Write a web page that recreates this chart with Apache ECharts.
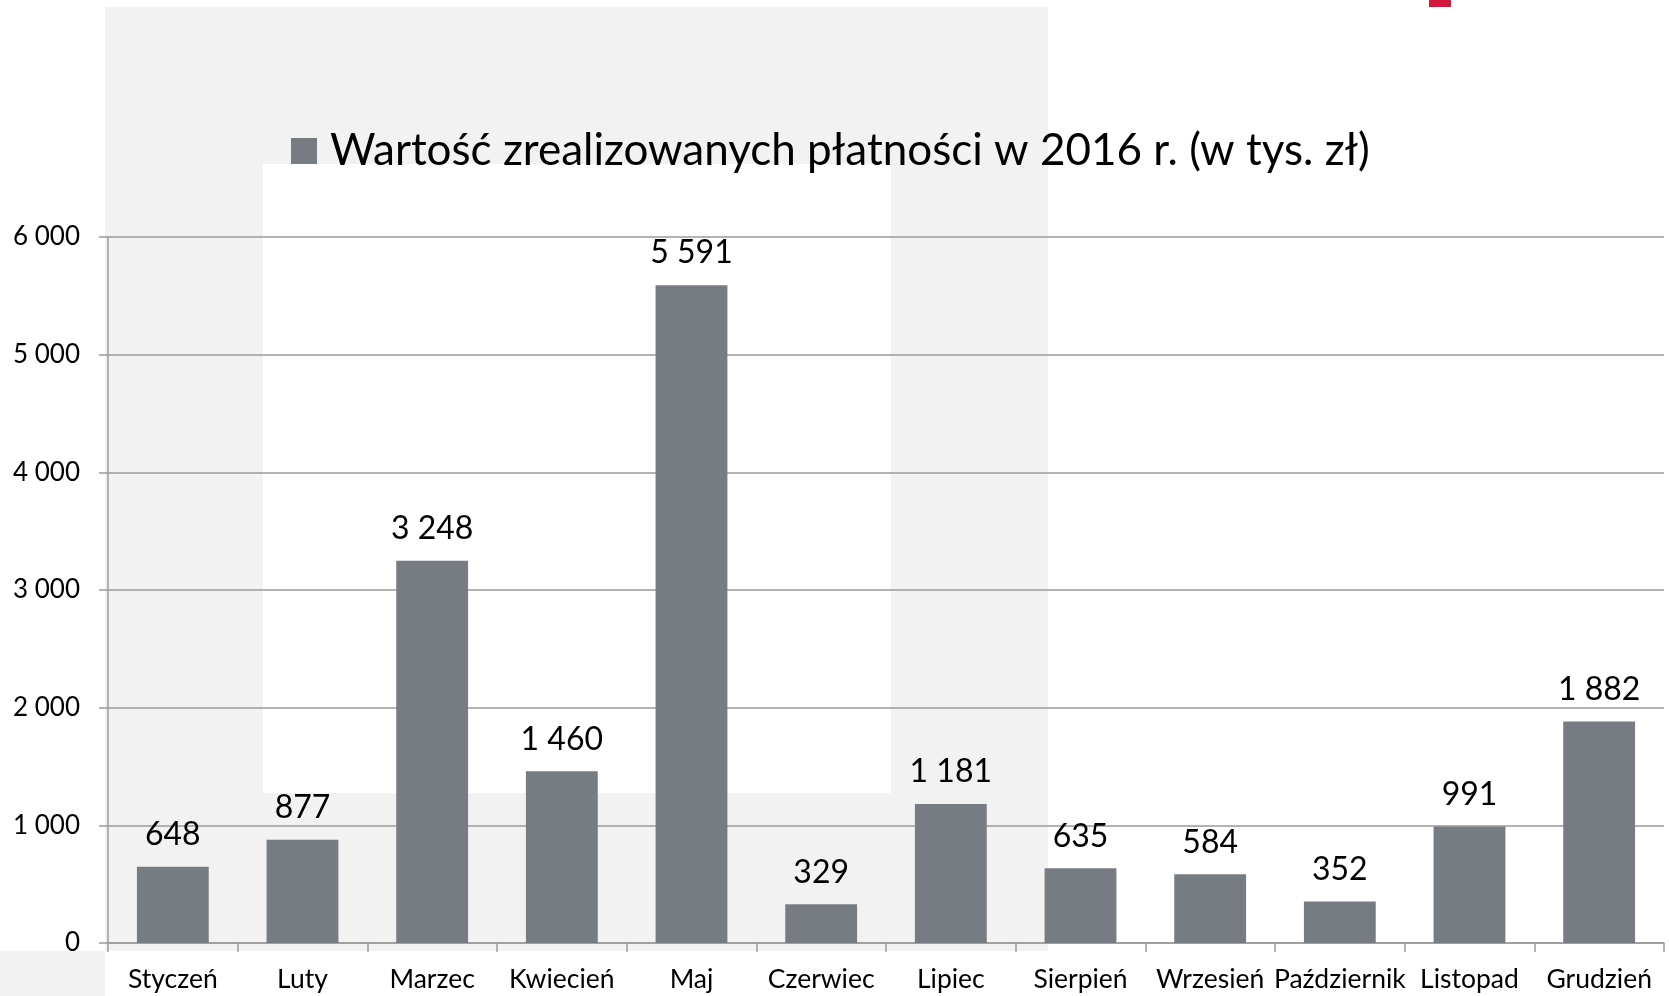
<!DOCTYPE html>
<html>
<head>
<meta charset="utf-8">
<script src="https://cdn.jsdelivr.net/npm/echarts@6/dist/echarts.min.js"></script>
<style>
  html, body { margin: 0; padding: 0; background: #fff; }
  #main { width: 1669px; height: 996px; }
</style>
</head>
<body>
<div id="main"></div>
<script>
// dane z wykresu
var months = ['Styczeń', 'Luty', 'Marzec', 'Kwiecień', 'Maj', 'Czerwiec', 'Lipiec',
  'Sierpień', 'Wrzesień', 'Październik', 'Listopad', 'Grudzień']
var payments = [648, 877, 3248, 1460, 5591, 329, 1181, 635, 584, 352, 991, 1882]
var seriesName = 'Wartość zrealizowanych płatności w 2016 r. (w tys. zł)'

var FONT = 'Lato, "Open Sans", sans-serif'

// liczby ze spacją jako separatorem tysięcy
function fmt(v) {
  return String(v).replace(/\B(?=(\d{3})+(?!\d))/g, ' ')
}

var myChart = echarts.init(document.getElementById('main'))

var option = {
  backgroundColor: '#ffffff',
  animation: false,
  // tło: szary panel, biały prostokąt, czerwony znacznik
  graphic: [
    { type: 'rect', z: -10, shape: { x: 105, y: 7, width: 943, height: 944 }, style: { fill: '#f2f2f2' } },
    { type: 'rect', z: -10, shape: { x: 0, y: 951, width: 105, height: 45 }, style: { fill: '#f2f2f2' } },
    { type: 'rect', z: -9, shape: { x: 263, y: 164, width: 628, height: 629 }, style: { fill: '#ffffff' } },
    { type: 'rect', z: -9, shape: { x: 1429, y: 0, width: 22, height: 7 }, style: { fill: '#d2193c' } }
  ],
  legend: {
    left: 286,
    top: 124,
    itemWidth: 26,
    itemHeight: 26,
    itemGap: 10,
    icon: 'rect',
    textStyle: { fontFamily: FONT, fontSize: 44, color: '#000', padding: [0, 0, 0, 8] },
    data: [seriesName]
  },
  grid: {
    left: 108,
    right: 5,
    top: 237,
    bottom: 53
  },
  xAxis: {
    type: 'category',
    data: months,
    axisLine: { lineStyle: { color: '#9a9a9a', width: 1.5 } },
    axisTick: { show: true, length: 9, lineStyle: { color: '#9a9a9a', width: 1.5 } },
    axisLabel: { fontFamily: FONT, fontSize: 26.5, color: '#000', margin: 23, interval: 0 }
  },
  yAxis: {
    type: 'value',
    min: 0,
    max: 6000,
    interval: 1000,
    axisLine: { show: true, lineStyle: { color: '#9a9a9a', width: 1.5 } },
    axisTick: { show: true, length: 9, lineStyle: { color: '#9a9a9a', width: 1.5 } },
    splitLine: { lineStyle: { color: '#9a9a9a', width: 1.5 } },
    axisLabel: {
      fontFamily: FONT, fontSize: 26, color: '#000', margin: 28,
      formatter: function (v) { return fmt(v) }
    }
  },
  series: [{
    name: seriesName,
    type: 'bar',
    data: payments,
    barCategoryGap: '44.6%',
    itemStyle: { color: '#777c82' },
    label: {
      show: true,
      position: 'top',
      distance: 16,
      fontFamily: FONT,
      fontSize: 32,
      color: '#000',
      formatter: function (p) { return fmt(p.value) }
    }
  }]
}

myChart.setOption(option)
</script>
</body>
</html>
